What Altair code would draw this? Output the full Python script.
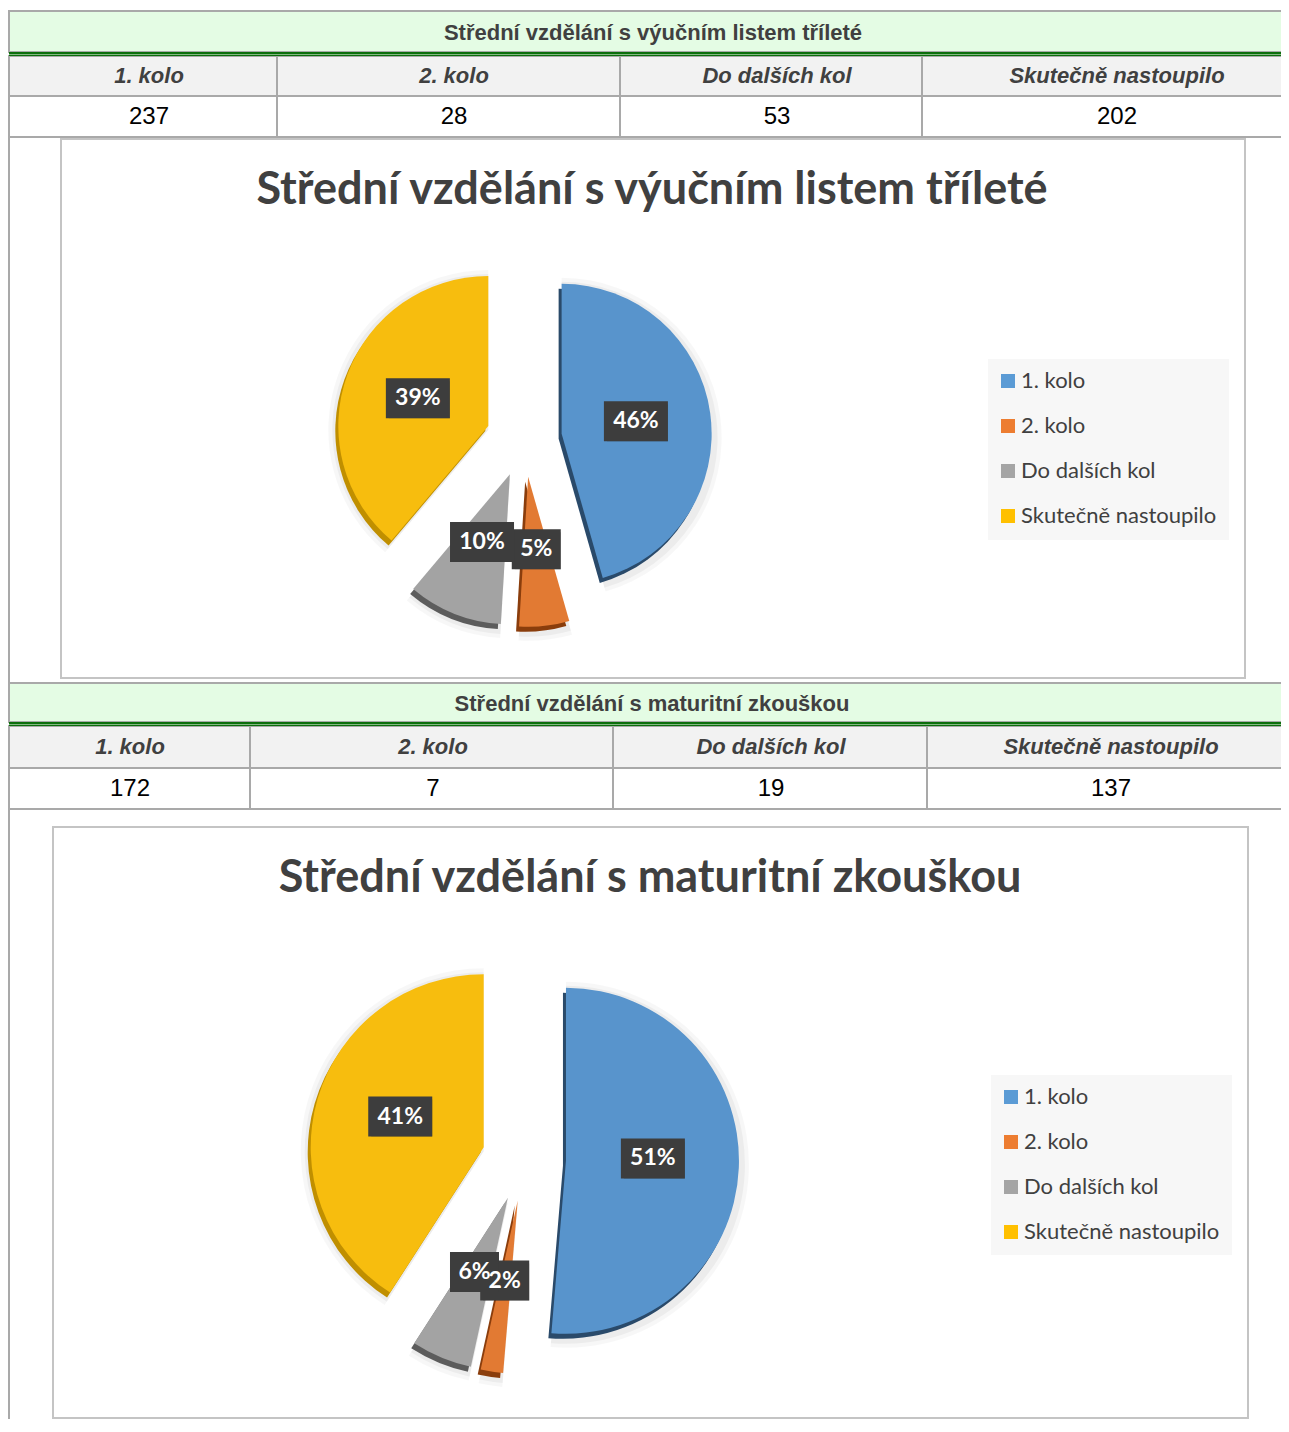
import altair as alt
import pandas as pd

# ---------------- data ----------------
categories = ["1. kolo", "2. kolo", "Do dalších kol", "Skutečně nastoupilo"]
title_vyucni = "Střední vzdělání s výučním listem tříleté"
values_vyucni = [237, 28, 53, 202]
title_maturita = "Střední vzdělání s maturitní zkouškou"
values_maturita = [172, 7, 19, 137]

# ---------------- styles ----------------
legend_colors = ["#5b9bd5", "#ed7d31", "#a5a5a5", "#ffc000"]
slice_colors = ["#5894cc", "#e27a33", "#a3a3a3", "#f7bd0e"]
side_colors = ["#2a4a6a", "#8a3d0c", "#5c5c5c", "#c08f00"]
GRID = "#a9a9a9"
TXT = "#404040"
ARIAL = "Liberation Sans, Arial, sans-serif"
OFFICE = "Lato, Open Sans, sans-serif"

# ---------------- layout (page pixels) ----------------
W, H = 1273, 1411
X0, Y0 = 8, 8
XS = alt.Scale(domain=[X0, X0 + W], range=[0, W])
YS = alt.Scale(domain=[Y0, Y0 + H], range=[0, H])
RIGHT = X0 + W

TABLES = [
    dict(title=title_vyucni, values=values_vyucni, top=11, title_b=52, head_t=56, head_b=96,
         val_b=137, cols=[9, 277, 620, 922], textx=[149, 454, 777, 1117], title_x=653),
    dict(title=title_maturita, values=values_maturita, top=683, title_b=722, head_t=726,
         head_b=768, val_b=809, cols=[9, 250, 613, 927], textx=[130, 433, 771, 1111], title_x=652),
]
PIES = [
    dict(title=title_vyucni, values=values_vyucni, frame=(61, 139, 1245, 678), tx=652, ty=190,
         tsize=45, cx=524, cy=439, r=150, d=38, lr=75, ldy=-2, legend=(988, 359, 1229, 540)),
    dict(title=title_maturita, values=values_maturita, frame=(53, 827, 1248, 1418), tx=650,
         ty=878, tsize=45, cx=524, cy=1159, r=173, d=42, lr=87, ldy=-6, legend=(991, 1075, 1232, 1255)),
]


def X(f):
    return alt.X(f"{f}:Q", scale=XS, axis=None)


def Y(f):
    return alt.Y(f"{f}:Q", scale=YS, axis=None)


layers = []

# outer left border lines
border_df = pd.DataFrame({"x": [9, 9], "y": [137, 809], "y2": [683, 1432]})
layers.append(alt.Chart(border_df).mark_rule(color=GRID, strokeWidth=2).encode(
    x=X("x"), y=Y("y"), y2=alt.Y2("y2")))

# ---------------- tables ----------------
for t in TABLES:
    lefts = t["cols"]
    rights = lefts[1:] + [RIGHT + 4]
    title_df = pd.DataFrame({"text": [t["title"]], "x0": [lefts[0]], "x1": [RIGHT + 4],
                             "y0": [t["top"]], "y1": [t["title_b"]],
                             "xm": [t["title_x"]], "ym": [(t["top"] + t["title_b"]) / 2 + 1]})
    layers.append(alt.Chart(title_df).mark_rect(fill="#e4fce4", stroke=GRID, strokeWidth=2).encode(
        x=X("x0"), x2=alt.X2("x1"), y=Y("y0"), y2=alt.Y2("y1")))
    layers.append(alt.Chart(title_df).mark_text(font=ARIAL, fontWeight="bold", fontSize=22, color=TXT,
                                                baseline="middle").encode(
        x=X("xm"), y=Y("ym"), text="text:N"))

    cells = pd.DataFrame({"label": categories, "value": [str(v) for v in t["values"]],
                          "x0": lefts, "x1": rights, "xm": t["textx"]})
    cells["hy0"], cells["hy1"] = t["head_t"], t["head_b"]
    cells["vy0"], cells["vy1"] = t["head_b"], t["val_b"]
    cells["hym"] = (t["head_t"] + t["head_b"]) / 2
    cells["vym"] = (t["head_b"] + t["val_b"]) / 2
    cc = alt.Chart(cells)
    layers.append(cc.mark_rect(fill="#f2f2f2", stroke=GRID, strokeWidth=2).encode(
        x=X("x0"), x2=alt.X2("x1"), y=Y("hy0"), y2=alt.Y2("hy1")))
    layers.append(cc.mark_rect(fill="white", stroke=GRID, strokeWidth=2).encode(
        x=X("x0"), x2=alt.X2("x1"), y=Y("vy0"), y2=alt.Y2("vy1")))
    layers.append(cc.mark_text(font=ARIAL, fontStyle="italic", fontWeight="bold", fontSize=22,
                               color=TXT, baseline="middle").encode(
        x=X("xm"), y=Y("hym"), text="label:N"))
    layers.append(cc.mark_text(font=ARIAL, fontSize=24, color="black", baseline="middle").encode(
        x=X("xm"), y=Y("vym"), text="value:N"))

    green = pd.DataFrame({"x0": [lefts[0], lefts[0]], "x1": [RIGHT + 4, RIGHT + 4],
                          "y": [t["title_b"] + 1.2, t["title_b"] + 3.5], "w": [2.4, 1.2]})
    layers.append(alt.Chart(green).mark_rule(color="#0b6e0b").encode(
        x=X("x0"), x2=alt.X2("x1"), y=Y("y"), strokeWidth=alt.StrokeWidth("w:Q", scale=None)))

# ---------------- pies ----------------
for p in PIES:
    fx0, fy0, fx1, fy1 = p["frame"]
    frame_df = pd.DataFrame({"x0": [fx0], "x1": [fx1], "y0": [fy0], "y1": [fy1]})
    layers.append(alt.Chart(frame_df).mark_rect(fill="white", stroke="#c4c4c4", strokeWidth=2).encode(
        x=X("x0"), x2=alt.X2("x1"), y=Y("y0"), y2=alt.Y2("y1")))

    tdf = pd.DataFrame({"text": [p["title"]], "x": [p["tx"]], "y": [p["ty"]]})
    layers.append(alt.Chart(tdf).mark_text(font=OFFICE, fontWeight="bold", fontSize=p["tsize"],
                                           color=TXT, baseline="middle").encode(
        x=X("x"), y=Y("y"), text="text:N"))

    df = pd.DataFrame({"category": categories, "value": p["values"], "order": list(range(len(categories)))})
    cx, cy, r, d, lr, ldy = p["cx"], p["cy"], p["r"], p["d"], p["lr"], p["ldy"]
    base = (
        alt.Chart(df)
        .transform_joinaggregate(total="sum(value)")
        .transform_window(cum="sum(value)", sort=[alt.SortField("order")], frame=[None, 0])
        .transform_calculate(t1="2*PI*datum.cum/datum.total")
        .transform_calculate(t0="2*PI*(datum.cum-datum.value)/datum.total")
        .transform_calculate(mid="(datum.t0+datum.t1)/2")
        .transform_calculate(px=f"{cx}+{d}*sin(datum.mid)")
        .transform_calculate(py=f"{cy}-{d}*cos(datum.mid)")
        .transform_calculate(lx=f"{cx}+{d + lr}*sin(datum.mid)")
        .transform_calculate(ly=f"{cy + ldy}-{d + lr}*cos(datum.mid)")
        .transform_calculate(pct="format(datum.value/datum.total, '.0%')")
        .transform_calculate(bw="15*length(datum.pct)+19")
        .transform_calculate(bx0="datum.lx-datum.bw/2")
        .transform_calculate(bx1="datum.lx+datum.bw/2")
        .transform_calculate(by0="datum.ly-20")
        .transform_calculate(by1="datum.ly+20")
    )
    theta = alt.Theta("t0:Q", scale=None, stack=None)
    theta2 = alt.Theta2("t1")
    # soft shadow
    for extra, op in [(10, 0.03), (6, 0.045)]:
        layers.append(base.mark_arc(radius=r + extra, color="black", opacity=op, yOffset=4).encode(
            x=X("px"), y=Y("py"), theta=theta, theta2=theta2))
    # side (depth)
    layers.append(base.mark_arc(radius=r, xOffset=-3, yOffset=5).encode(
        x=X("px"), y=Y("py"), theta=theta, theta2=theta2,
        color=alt.Color("category:N", scale=alt.Scale(domain=categories, range=side_colors), legend=None)))
    # top face
    layers.append(base.mark_arc(radius=r).encode(
        x=X("px"), y=Y("py"), theta=theta, theta2=theta2,
        color=alt.Color("category:N", scale=alt.Scale(domain=categories, range=slice_colors), legend=None)))
    # label boxes
    layers.append(base.mark_rect(color="black", opacity=0.3, xOffset=3, yOffset=3).encode(
        x=X("bx0"), x2=alt.X2("bx1"), y=Y("by0"), y2=alt.Y2("by1")))
    layers.append(base.mark_rect(color="#3d3d3d").encode(
        x=X("bx0"), x2=alt.X2("bx1"), y=Y("by0"), y2=alt.Y2("by1")))
    layers.append(base.mark_text(font=OFFICE, fontWeight="bold", fontSize=23, color="white",
                                 baseline="middle").encode(
        x=X("lx"), y=Y("ly"), text="pct:N"))

    # legend
    lx0, ly0, lx1, ly1 = p["legend"]
    lbox = pd.DataFrame({"x0": [lx0], "x1": [lx1], "y0": [ly0], "y1": [ly1]})
    layers.append(alt.Chart(lbox).mark_rect(fill="#f7f7f7").encode(
        x=X("x0"), x2=alt.X2("x1"), y=Y("y0"), y2=alt.Y2("y1")))
    lg = (
        alt.Chart(pd.DataFrame({"category": categories, "order": list(range(len(categories)))}))
        .transform_calculate(ym=f"{ly0 + 22}+45*datum.order")
        .transform_calculate(sy0="datum.ym-7", sy1="datum.ym+7")
        .transform_calculate(sx0=f"{lx0 + 13}", sx1=f"{lx0 + 27}", tx=f"{lx0 + 33}")
    )
    layers.append(lg.mark_rect().encode(
        x=X("sx0"), x2=alt.X2("sx1"), y=Y("sy0"), y2=alt.Y2("sy1"),
        color=alt.Color("category:N", scale=alt.Scale(domain=categories, range=legend_colors), legend=None)))
    layers.append(lg.mark_text(font=OFFICE, fontSize=22, color=TXT, align="left", baseline="middle").encode(
        x=X("tx"), y=Y("ym"), text="category:N"))

chart = (
    alt.layer(*layers)
    .resolve_scale(color="independent")
    .properties(width=W, height=H, padding=0, autosize=alt.AutoSizeParams(type="none"))
    .configure_view(strokeWidth=0)
)
chart.save("out.html", embed_options={"renderer": "svg", "actions": False})
